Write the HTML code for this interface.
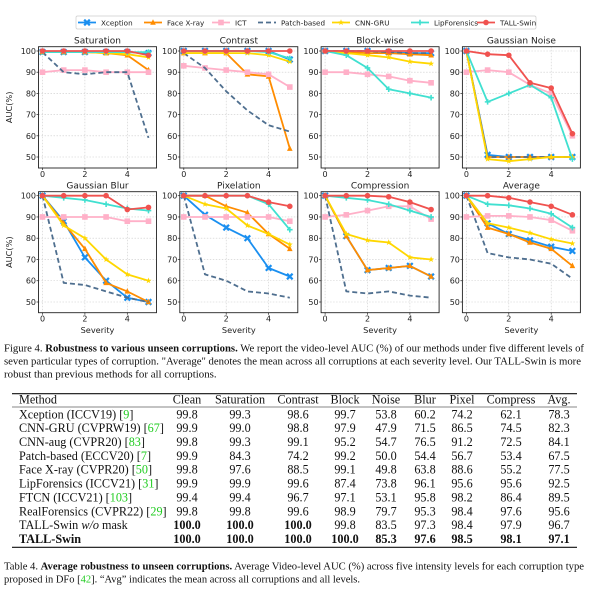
<!DOCTYPE html>
<html><head><meta charset="utf-8"><style>
body{margin:0;background:#fff;}
svg{display:block;}
.t{font-family:"DejaVu Sans",sans-serif;fill:#222;}
.s{font-family:"Liberation Serif",serif;fill:#111;}
</style></head><body>
<svg id="fig" width="597" height="590" viewBox="0 0 597 590" xmlns="http://www.w3.org/2000/svg">
<g id="legend"></g>
<g id="charts"></g>
<g class="s" font-size="10.9">
<text x="4" y="351.5" textLength="580" lengthAdjust="spacingAndGlyphs">Figure 4. <tspan font-weight="bold">Robustness to various unseen corruptions.</tspan> We report the video-level AUC (%) of our methods under five different levels of</text>
<text x="4" y="364.5" textLength="577" lengthAdjust="spacingAndGlyphs">seven particular types of corruption. "Average" denotes the mean across all corruptions at each severity level. Our TALL-Swin is more</text>
<text x="4" y="377.5">robust than previous methods for all corruptions.</text>
</g>
<g id="table" class="s" font-size="12.2"></g>
<g class="s" font-size="10.9">
<text x="4" y="569.5" textLength="580" lengthAdjust="spacingAndGlyphs">Table 4. <tspan font-weight="bold">Average robustness to unseen corruptions.</tspan> Average Video-level AUC (%) across five intensity levels for each corruption type</text>
<text x="4" y="582.5" textLength="356" lengthAdjust="spacingAndGlyphs">proposed in DFo [<tspan fill="#2c2">42</tspan>]. “Avg” indicates the mean across all corruptions and all levels.</text>
</g>
</svg>
<script>
const NS="http://www.w3.org/2000/svg";
const methods=["Xception","Face X-ray","ICT","Patch-based","CNN-GRU","LipForensics","TALL-Swin"];
const colors=["#1a8ff0","#ff8c00","#ffb0c8","#4f6f8f","#ffd700","#40e0d0","#f0524f"];
const markers=["x","tri","sq","none","star","plus","circ"];
const panelTitles=["Saturation","Contrast","Block-wise","Gaussian Noise","Gaussian Blur","Pixelation","Compression","Average"];
const severities=[0,1,2,3,4,5];
const yTicks=[50,60,70,80,90,100];
const xTicks=[0,2,4];
const saturation=[[99.5,99.5,99.5,99.5,99.5,99],[99.5,99.5,99.5,99,98,91],[90,91,91,90,90,90],[99.5,90,89,90,90,59],[99.5,99.5,99.5,99,98.5,97],[99.5,99.5,99.5,99.5,99.5,99.5],[100,100,100,100,100,98]];
const contrast=[[100,100,100,100,100,96],[99,99,99,89,88,54],[93,92,91,90,89,83],[99,92,81,72,65,62],[99,99,99,99,98,95],[100,100,100,100,99.5,96.5],[100,100,100,100,100,100]];
const blockwise=[[100,100,100,99.5,99,99],[100,99.5,99,99,98.5,98],[90,90,89,88,86,85],[100,100,100,99.5,99,99],[100,99,98,97,95,94],[100,98,92,82,80,78],[100,100,100,100,100,100]];
const noise=[[100,51,50,50,50,50],[100,50,50,50,50,50],[90,91,90,84,80,60],[100,50,50,50,50,50],[100,49,48,49,50,50],[100,76,80,84,78,49],[100,98.5,98,85,82.5,61]];
const blur=[[100,88,71,60,52,50],[100,87,75,59,55,50],[90,90,90,90,88,88],[100,59,58,55,52,50],[100,86,80,70,63,60],[100,99,98,96,94,93],[100,100,100,100,93.5,94.5]];
const pixelation=[[100,91,85,80,66,62],[100,100,95,92,82,75],[90,90,90,90,90,88],[100,63,60,55,54,52],[100,96,94,86,82,77],[100,100,100,100,96,84],[100,100,100,100,97,95]];
const compression=[[100,81,65,66,67,62],[100,81,65,66,67,62],[90,91,93,95,95,89],[100,55,54,55,53,52],[100,82,79,78,71,70],[100,99,98,96,93,90],[100,100,100,99.5,97,93.5]];
const average=[[100,87,82,79,76,74],[100,85,82,78,75,67],[90,90.5,90.5,90,88.5,83.5],[100,73,71,70,68,61],[100,87,85,82.5,79.5,77.5],[100,96,95.5,94,91.5,85],[100,100,99,97,95,91]];
const panels=[saturation,contrast,blockwise,noise,blur,pixelation,compression,average];
const tableHeader=["Method","Clean","Saturation","Contrast","Block","Noise","Blur","Pixel","Compress","Avg."];
const tableRows=[
["Xception (ICCV19) [|9|]","99.8","99.3","98.6","99.7","53.8","60.2","74.2","62.1","78.3"],
["CNN-GRU (CVPRW19) [|67|]","99.9","99.0","98.8","97.9","47.9","71.5","86.5","74.5","82.3"],
["CNN-aug (CVPR20) [|83|]","99.8","99.3","99.1","95.2","54.7","76.5","91.2","72.5","84.1"],
["Patch-based (ECCV20) [|7|]","99.9","84.3","74.2","99.2","50.0","54.4","56.7","53.4","67.5"],
["Face X-ray (CVPR20) [|50|]","99.8","97.6","88.5","99.1","49.8","63.8","88.6","55.2","77.5"],
["LipForensics (ICCV21) [|31|]","99.9","99.9","99.6","87.4","73.8","96.1","95.6","95.6","92.5"],
["FTCN (ICCV21) [|103|]","99.4","99.4","96.7","97.1","53.1","95.8","98.2","86.4","89.5"],
["RealForensics (CVPR22) [|29|]","99.8","99.8","99.6","98.9","79.7","95.3","98.4","97.6","95.6"],
["TALL-Swin w/o mask","100.0","100.0","100.0","99.8","83.5","97.3","98.4","97.9","96.7"],
["TALL-Swin","100.0","100.0","100.0","100.0","85.3","97.6","98.5","98.1","97.1"]];
const boldCells=[[8,1],[8,2],[8,3]];

function mk(tag,attrs,parent){const e=document.createElementNS(NS,tag);for(const k in attrs)e.setAttribute(k,attrs[k]);parent.appendChild(e);return e;}
function marker(type,cx,cy,col,g){
  const r=2.8;let e;
  if(type==="circ")e=mk("circle",{cx,cy,r:r,fill:col},g);
  else if(type==="sq")e=mk("rect",{x:cx-r,y:cy-r,width:2*r,height:2*r,fill:col},g);
  else if(type==="tri")e=mk("polygon",{points:`${cx},${cy-r-0.5} ${cx-r},${cy+r-0.5} ${cx+r},${cy+r-0.5}`,fill:col},g);
  else if(type==="x")e=mk("path",{d:`M${cx-r},${cy-r}L${cx+r},${cy+r}M${cx-r},${cy+r}L${cx+r},${cy-r}`,stroke:col,"stroke-width":2.2},g);
  else if(type==="plus")e=mk("path",{d:`M${cx-r},${cy}L${cx+r},${cy}M${cx},${cy-r}L${cx},${cy+r}`,stroke:col,"stroke-width":1.6},g);
  else if(type==="star"){let p=[];for(let i=0;i<10;i++){const a=-Math.PI/2+i*Math.PI/5,rr=i%2?1.3:3.2;p.push((cx+rr*Math.cos(a)).toFixed(1)+","+(cy+rr*Math.sin(a)).toFixed(1));}e=mk("polygon",{points:p.join(" "),fill:col},g);}
  if(e){}
}
const lg=document.getElementById("legend");
const lb=mk("rect",{x:76,y:16,width:460,height:13,fill:"#fff",stroke:"#ccc","stroke-width":0.7,rx:1.5},lg);

const legX=[78,144,212,258,332,411,477];
methods.forEach((m,i)=>{
  const g=mk("g",{},lg);
  
  
  const x=legX[i];
  mk("line",{x1:x,y1:22.5,x2:x+18,y2:22.5,stroke:colors[i],"stroke-width":1.8,"stroke-dasharray":i===3?"5,3":"none"},g);
  if(markers[i]!=="none")marker(markers[i],x+9,22.5,colors[i],g);
  const t=mk("text",{x:x+23,y:25.5,"font-size":"7.2",class:"t"},g);t.textContent=m;
});
const ch=document.getElementById("charts");
panels.forEach((data,p)=>{
  const col=p%4,row=Math.floor(p/4);
  const left=38.5+col*141.3,w=118;
  const top=row?191.7:46.7,bot=row?312.7:168;
  const y100=row?195.7:51,k=row?2.126:2.12;
  const xs=v=>left+4+v*21.2, ys=v=>y100+(100-v)*k;
  const g=mk("g",{},ch);
  
  
  yTicks.forEach(v=>{mk("line",{x1:left,x2:left+w,y1:ys(v),y2:ys(v),stroke:"#ccc","stroke-width":0.6,"stroke-dasharray":"1.5,1.5"},g);
    const t=mk("text",{x:left-2.5,y:ys(v)+3,"text-anchor":"end","font-size":"8",class:"t"},g);t.textContent=v;
    mk("line",{x1:left-2,x2:left,y1:ys(v),y2:ys(v),stroke:"#222","stroke-width":0.7},g);});
  xTicks.forEach(v=>{mk("line",{x1:xs(v),x2:xs(v),y1:top,y2:bot,stroke:"#ccc","stroke-width":0.6,"stroke-dasharray":"1.5,1.5"},g);
    const t=mk("text",{x:xs(v),y:bot+9,"text-anchor":"middle","font-size":"8",class:"t"},g);t.textContent=v;
    mk("line",{x1:xs(v),x2:xs(v),y1:bot,y2:bot+2,stroke:"#222","stroke-width":0.7},g);});
  data.forEach((ser,i)=>{
    const s=mk("g",{},g);
    
    
    const pts=ser.map((v,j)=>xs(severities[j]).toFixed(1)+","+ys(v).toFixed(1)).join(" ");
    mk("polyline",{points:pts,fill:"none",stroke:colors[i],"stroke-width":1.8,"stroke-dasharray":i===3?"5,3":"none","stroke-linejoin":"round"},s);
    if(markers[i]!=="none")ser.forEach((v,j)=>marker(markers[i],xs(severities[j]),ys(v),colors[i],s));
  });
  mk("rect",{x:left,y:top,width:w,height:bot-top,fill:"none",stroke:"#222","stroke-width":0.9},g);
  const tt=mk("text",{x:left+w/2,y:top-3,"text-anchor":"middle","font-size":"9",class:"t"},g);tt.textContent=panelTitles[p];
  if(row){const sv=mk("text",{x:left+w/2,y:333,"text-anchor":"middle","font-size":"8.2",class:"t"},g);sv.textContent="Severity";}
  if(col===0){const yl=mk("text",{x:0,y:0,"text-anchor":"middle","font-size":"8.2",class:"t",transform:`translate(12,${(top+bot)/2}) rotate(-90)`},g);yl.textContent="AUC(%)";}
});
const tb=document.getElementById("table");
const colX=[19,187,240,298,345,386,425,462,511,559];
mk("line",{x1:12,x2:577,y1:393.7,y2:393.7,stroke:"#111","stroke-width":1.1},tb);
mk("line",{x1:12,x2:577,y1:407,y2:407,stroke:"#111","stroke-width":0.6},tb);
mk("line",{x1:12,x2:577,y1:547.3,y2:547.3,stroke:"#111","stroke-width":1.1},tb);
tableHeader.forEach((h,c)=>{const t=mk("text",{x:colX[c],y:403.5,"text-anchor":c?"middle":"start"},tb);t.textContent=h;});
tableRows.forEach((r,ri)=>{
  const y=418.3+ri*13.85;
  const rg=mk("g",{},tb);
  
  
  r.forEach((cell,c)=>{
    const bold=ri===9||boldCells.some(b=>b[0]===ri&&b[1]===c);
    const t=mk("text",{x:colX[c],y:y,"text-anchor":c?"middle":"start","font-weight":bold?"bold":"normal"},rg);
    if(c===0&&cell.includes("|")){const parts=cell.split("|");
      const a=mk("tspan",{},t);a.textContent=parts[0];
      const b=mk("tspan",{fill:"#2c2"},t);b.textContent=parts[1];
      const d=mk("tspan",{},t);d.textContent=parts[2];}
    else if(c===0&&ri===8){const a=mk("tspan",{},t);a.textContent="TALL-Swin ";const b=mk("tspan",{"font-style":"italic"},t);b.textContent="w/o";const d=mk("tspan",{},t);d.textContent=" mask";}
    else t.textContent=cell;
  });
});
</script>
</body></html>
